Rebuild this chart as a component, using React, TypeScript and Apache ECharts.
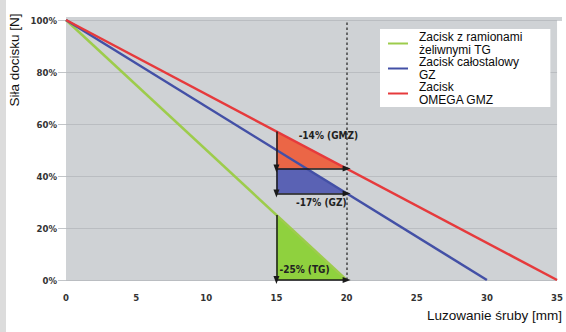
import React, { useEffect, useRef } from "react";
import * as echarts from "echarts";

// ---- data ----
const xTicks = [0, 5, 10, 15, 20, 25, 30, 35];
const yTicks = [0, 20, 40, 60, 80, 100];
const seriesNames = [
  "Zacisk z ramionami\nżeliwnymi TG",
  "Zacisk całostalowy\nGZ",
  "Zacisk\nOMEGA GMZ",
];
const tgLine = [[0, 100], [20, 0]];
const gzLine = [[0, 100], [30, 0]];
const gmzLine = [[0, 100], [35, 0]];
const dropFrom = 15; // mm
const dropTo = 20; // mm
const tgDrop = [25, 0];
const gzDrop = [50, 33.3];
const gmzDrop = [57.1, 42.9];
const dropLabels = ["-25% (TG)", "-17% (GZ)", "-14% (GMZ)"];
const xName = "Luzowanie śruby [mm]";
const yName = "Siła docisku [N]";

const lineColors = ["#9dcc4c", "#4350a6", "#e63a3c"];
const fillColors = ["#8fd13e", "#5a62b4", "#eb6646"];
const narrow = "'Liberation Sans Narrow', 'DejaVu Sans Condensed', 'Liberation Sans', sans-serif";
const sans = "'Liberation Sans', Arial, sans-serif";

export default function App() {
  const ref = useRef<HTMLDivElement>(null);
  useEffect(() => {
    if (!ref.current) return;
    const chart = echarts.init(ref.current, undefined, { renderer: "svg" });
    const tris = [
      [dropFrom, dropTo, tgDrop[0], tgDrop[1], 0],
      [dropFrom, dropTo, gzDrop[0], gzDrop[1], 1],
      [dropFrom, dropTo, gmzDrop[0], gmzDrop[1], 2],
    ];
    const arrowPairs = [
      [[dropFrom, gmzDrop[0]], [dropFrom, gmzDrop[1]]],
      [[dropFrom, gmzDrop[1]], [dropTo, gmzDrop[1]]],
      [[dropFrom, gmzDrop[1]], [dropFrom, gzDrop[1]]],
      [[dropFrom, gzDrop[1]], [dropTo, gzDrop[1]]],
      [[dropFrom, tgDrop[0]], [dropFrom, tgDrop[1]]],
      [[dropFrom, tgDrop[1]], [dropTo, tgDrop[1]]],
    ];
    const lineSeries = (name: string, data: number[][], color: string) => ({
      name,
      type: "line",
      data,
      symbol: "none",
      z: 3,
      lineStyle: { color, width: 2.5 },
      itemStyle: { color },
    });
    chart.setOption({
      animation: false,
      grid: {
        left: 66,
        right: 4,
        top: 20,
        bottom: 52,
        show: true,
        backgroundColor: "#cfd2d5",
        borderWidth: 0,
      },
      xAxis: {
        type: "value",
        min: 0,
        max: 35,
        interval: 5,
        axisLine: { show: false },
        axisTick: { show: false },
        splitLine: { show: false },
        axisLabel: {
          margin: 12,
          fontSize: 9.5,
          fontWeight: "bold",
          fontFamily: narrow,
          color: "#333",
          customValues: xTicks,
        },
      },
      yAxis: {
        type: "value",
        min: 0,
        max: 100,
        interval: 20,
        axisLine: { show: false },
        axisTick: { show: true, length: 8, lineStyle: { color: "#c2c5c8" } },
        splitLine: { show: true, lineStyle: { color: "#babdc1", width: 1 } },
        axisLabel: {
          margin: 9,
          fontSize: 9.5,
          fontWeight: "bold",
          fontFamily: narrow,
          color: "#333",
          formatter: (v: number) => (yTicks.includes(v) ? v + "%" : ""),
        },
      },
      legend: {
        orient: "vertical",
        left: 380,
        top: 29,
        backgroundColor: "#ffffff",
        padding: [2, 28, 1, 8],
        itemGap: 0,
        itemWidth: 20,
        itemHeight: 2,
        icon: "rect",
        data: seriesNames,
        textStyle: {
          fontSize: 12,
          lineHeight: 12.5,
          fontFamily: sans,
          color: "#0a0a0a",
          padding: [0, 0, 0, 6],
        },
      },
      graphic: [
        {
          type: "rect",
          shape: { x: 0, y: 0, width: 6, height: 332 },
          style: { fill: "#dcdcdc" },
          silent: true,
        },
        {
          type: "rect",
          shape: { x: 66, y: 17, width: 496, height: 4 },
          style: { fill: "#cfd2d5" },
          silent: true,
          z: -1,
        },
        {
          type: "text",
          x: 14,
          y: 60,
          rotation: Math.PI / 2,
          style: {
            text: yName,
            fontSize: 13.5,
            fontFamily: sans,
            fill: "#111",
            textAlign: "center",
            textVerticalAlign: "middle",
          },
        },
        {
          type: "text",
          x: 562,
          y: 315,
          style: {
            text: xName,
            fontSize: 13.5,
            fontFamily: sans,
            fill: "#111",
            textAlign: "right",
            textVerticalAlign: "middle",
          },
        },
      ],
      series: [
        {
          type: "custom",
          z: 2,
          silent: true,
          data: tris,
          renderItem: (params: any, api: any) => {
            const x0 = api.value(0);
            const x1 = api.value(1);
            const top = api.value(2);
            const bottom = api.value(3);
            const idx = api.value(4);
            return {
              type: "polygon",
              shape: {
                points: [api.coord([x0, top]), api.coord([x0, bottom]), api.coord([x1, bottom])],
              },
              style: { fill: fillColors[idx] },
            };
          },
        },
        lineSeries(seriesNames[0], tgLine, lineColors[0]),
        lineSeries(seriesNames[1], gzLine, lineColors[1]),
        lineSeries(seriesNames[2], gmzLine, lineColors[2]),
        {
          type: "line",
          data: [],
          silent: true,
          markLine: {
            silent: true,
            symbol: ["none", "triangle"],
            symbolSize: [6, 8],
            label: { show: false },
            lineStyle: { color: "#1a1a1a", width: 1.5, type: "solid" },
            emphasis: { disabled: true },
            data: arrowPairs.map((p) => [{ coord: p[0] }, { coord: p[1] }]),
            z: 5,
          },
        },
        {
          type: "line",
          data: [],
          silent: true,
          markLine: {
            silent: true,
            symbol: ["none", "none"],
            label: { show: false },
            lineStyle: { color: "#444", width: 1.5, type: [2.5, 2.5] },
            emphasis: { disabled: true },
            data: [{ xAxis: dropTo }],
            z: 4,
          },
        },
        {
          type: "custom",
          z: 6,
          silent: true,
          data: tris,
          renderItem: (params: any, api: any) => {
            const top = api.value(2);
            const bottom = api.value(3);
            const idx = api.value(4);
            let pos: number[];
            if (idx === 2) {
              const p = api.coord([18.7, top]);
              pos = [p[0], p[1] + 4];
            } else if (idx === 1) {
              const p = api.coord([18.2, bottom]);
              pos = [p[0], p[1] + 9];
            } else {
              const p = api.coord([17.0, bottom]);
              pos = [p[0], p[1] - 11];
            }
            return {
              type: "text",
              x: pos[0],
              y: pos[1],
              style: {
                text: dropLabels[idx],
                fontSize: 10,
                fontWeight: "bold",
                fontFamily: narrow,
                fill: "#222",
                textAlign: "center",
                textVerticalAlign: "middle",
              },
            };
          },
        },
      ],
    });
    return () => chart.dispose();
  }, []);
  return (
    <div
      ref={ref}
      style={{ position: "fixed", left: 0, top: 0, width: 566, height: 332, background: "#ffffff" }}
    />
  );
}
